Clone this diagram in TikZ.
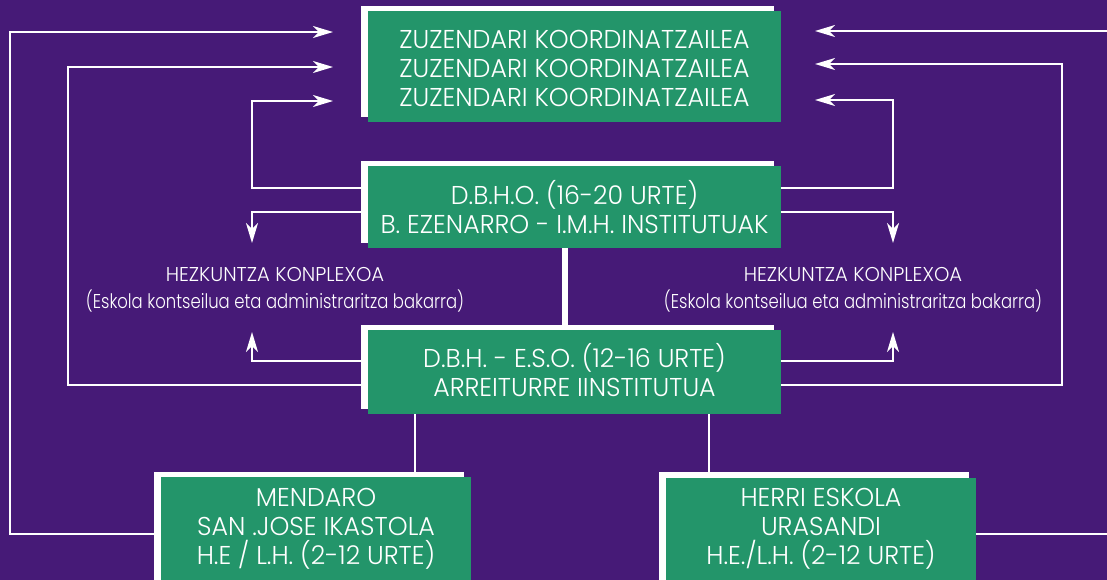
\documentclass[tikz,border=0pt]{standalone}
\usepackage{fontspec}
\setmainfont{Poppins Light}[FakeStretch=0.98]
\usetikzlibrary{arrows.meta,calc,backgrounds}
\definecolor{bgpurple}{HTML}{461A77}
\definecolor{boxgreen}{HTML}{23956A}
\begin{document}
\begin{tikzpicture}[x=1pt,y=-1pt,
  box/.style={fill=boxgreen, draw=none, minimum width=413pt, inner sep=0pt, text=white, align=center, font=\fontsize{25.8}{29}\selectfont},
  boxtxt/.style={inner sep=0pt, text=white, align=center, font=\fontsize{25.8}{29}\selectfont},
  lbl/.style={inner sep=0pt, text=white, align=center, font=\fontsize{20}{27}\selectfont},
  conn/.style={draw=white, line width=2pt},
  arrowed/.style={-{Stealth[length=20pt,width=12pt,inset=6pt]}},
  thick conn/.style={draw=white, line width=6pt}]
\useasboundingbox (0,0) rectangle (1107,579);

\node[box, minimum height=111pt] (top) at (574.5,66.5) {};
\node[boxtxt] (toptxt) at (574.5,68.5) {ZUZENDARI KOORDINATZAILEA\\ZUZENDARI KOORDINATZAILEA\\ZUZENDARI KOORDINATZAILEA};
\node[box, minimum height=82pt] (dbho) at (574.5,207) {D.B.H.O. (16-20 URTE)\\B. EZENARRO - I.M.H. INSTITUTUAK};
\node[box, minimum height=84pt] (dbh) at (574.5,372) {};
\node[boxtxt] (dbhtxt) at (574.5,370.5) {D.B.H. - E.S.O. (12-16 URTE)\\ARREITURRE IINSTITUTUA};
\node[box, minimum width=310pt, minimum height=113pt] (mend) at (316,533.5) {};
\node[boxtxt] (mendtxt) at (316,529) {MENDARO\\SAN .JOSE IKASTOLA\\H.E / L.H. (2-12 URTE)};
\node[box, minimum width=310pt, minimum height=113pt] (herri) at (821,534) {};
\node[boxtxt] (herritxt) at (821,529) {HERRI ESKOLA\\URASANDI\\H.E./L.H. (2-12 URTE)};

\node[lbl] (hzl) at (275,290) {HEZKUNTZA KONPLEXOA\\\scalebox{0.84}[1]{(Eskola kontseilua eta administraritza bakarra)}};
\node[lbl] (hzr) at (853,290) {HEZKUNTZA KONPLEXOA\\\scalebox{0.84}[1]{(Eskola kontseilua eta administraritza bakarra)}};

\begin{scope}[on background layer]
  \fill[bgpurple] (-5,-5) rectangle (1112,584);
  \foreach \n in {top,dbho,dbh,mend,herri}
    \fill[white] ($(\n.south west)+(-7,-5)$) rectangle ($(\n.north east)+(-7,-5)$);
\end{scope}

\coordinate (lt1) at (333,32);
\coordinate (lt2) at (333,67);
\coordinate (lt3) at (333,101);
\coordinate (rt1) at (815,31);
\coordinate (rt2) at (815,64);
\coordinate (rt3) at (815,100);
\coordinate (ld) at (252,243);
\coordinate (lu) at (252,332);
\coordinate (rd) at (893,243);
\coordinate (ru) at (893,332);

\draw[conn,arrowed] (mend.west) -| (10,32) -- (lt1);
\draw[conn,arrowed] ([yshift=-13pt]dbh.west) -| (68,67) -- (lt2);
\draw[conn,arrowed] ([yshift=19pt]dbho.west) -| (252,101) -- (lt3);
\draw[conn,arrowed] (herri.east) -| (1120,31) -- (rt1);
\draw[conn,arrowed] ([yshift=-13pt]dbh.east) -| (1062,64) -- (rt2);
\draw[conn,arrowed] ([yshift=19pt]dbho.east) -| (893,100) -- (rt3);

\draw[conn,arrowed] ([yshift=-5pt]dbho.west) -| (ld);
\draw[conn,arrowed] ([yshift=11pt]dbh.west) -| (lu);
\draw[conn,arrowed] ([yshift=-5pt]dbho.east) -| (rd);
\draw[conn,arrowed] ([yshift=11pt]dbh.east) -| (ru);

\draw[thick conn] ([xshift=-9.5pt]dbho.south) -- ([xshift=-9.5pt]dbh.north);
\draw[conn] ([xshift=-159.5pt]dbh.south) -- ([xshift=99pt]mend.north);
\draw[conn] ([xshift=134.5pt]dbh.south) -- ([xshift=-112pt]herri.north);
\end{tikzpicture}
\end{document}
